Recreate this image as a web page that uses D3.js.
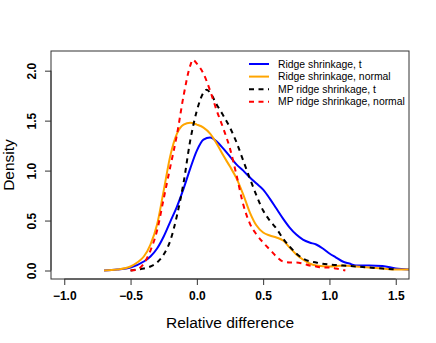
<!DOCTYPE html>
<html>
<head>
<meta charset="utf-8">
<script src="https://cdn.jsdelivr.net/npm/d3@7"></script>
<style>
  body { margin: 0; background: #fff; }
  text { font-family: "Liberation Sans", Arial, sans-serif; }
</style>
</head>
<body>
<div id="chart"></div>
<script>
var seriesNames = ["Ridge shrinkage, t", "Ridge shrinkage, normal", "MP ridge shrinkage, t", "MP ridge shrinkage, normal"];
var seriesColors = ["#0000ff", "#ffa500", "#000000", "#ff0000"];
var seriesDashed = [false, false, true, true];

var ridgeTX = [-0.7, -0.6, -0.5, -0.4, -0.35, -0.3, -0.25, -0.2, -0.15, -0.1, -0.05, 0, 0.05, 0.1, 0.15, 0.2, 0.25, 0.3, 0.35, 0.4, 0.45, 0.5, 0.55, 0.6, 0.65, 0.7, 0.75, 0.8, 0.85, 0.9, 0.95, 1.0, 1.05, 1.1, 1.15, 1.2, 1.3, 1.4, 1.5, 1.6];
var ridgeTY = [0, 0.01, 0.03, 0.09, 0.14, 0.22, 0.34, 0.49, 0.64, 0.82, 1.02, 1.2, 1.31, 1.33, 1.29, 1.22, 1.14, 1.06, 1.0, 0.93, 0.87, 0.81, 0.72, 0.62, 0.52, 0.43, 0.36, 0.31, 0.28, 0.26, 0.22, 0.17, 0.13, 0.09, 0.07, 0.05, 0.05, 0.045, 0.02, 0.01];

var ridgeNX = [-0.7, -0.6, -0.5, -0.45, -0.4, -0.35, -0.3, -0.25, -0.2, -0.15, -0.1, -0.05, 0, 0.05, 0.1, 0.15, 0.2, 0.25, 0.3, 0.35, 0.4, 0.45, 0.5, 0.55, 0.6, 0.65, 0.7, 0.75, 0.8, 0.85, 0.9, 1.0, 1.1, 1.2, 1.3, 1.4, 1.5, 1.6];
var ridgeNY = [0, 0.01, 0.04, 0.08, 0.14, 0.26, 0.46, 0.8, 1.15, 1.37, 1.46, 1.48, 1.46, 1.43, 1.37, 1.27, 1.15, 1.04, 0.92, 0.76, 0.58, 0.45, 0.38, 0.35, 0.33, 0.3, 0.23, 0.16, 0.11, 0.07, 0.05, 0.04, 0.05, 0.04, 0.03, 0.02, 0.01, 0.01];

var mpTX = [-0.5, -0.45, -0.4, -0.35, -0.3, -0.25, -0.2, -0.15, -0.1, -0.05, 0, 0.05, 0.075, 0.1, 0.15, 0.2, 0.25, 0.3, 0.35, 0.4, 0.45, 0.5, 0.55, 0.6, 0.65, 0.7, 0.75, 0.8, 0.9, 1.0, 1.1, 1.2, 1.3, 1.4, 1.5];
var mpTY = [0, 0.01, 0.02, 0.04, 0.08, 0.16, 0.3, 0.55, 0.88, 1.3, 1.6, 1.78, 1.81, 1.78, 1.66, 1.55, 1.43, 1.28, 1.1, 0.92, 0.75, 0.6, 0.5, 0.42, 0.32, 0.24, 0.17, 0.12, 0.08, 0.06, 0.05, 0.04, 0.03, 0.02, 0.01];

var mpNX = [-0.5, -0.45, -0.4, -0.35, -0.3, -0.25, -0.2, -0.15, -0.1, -0.05, -0.03, 0, 0.05, 0.1, 0.15, 0.2, 0.25, 0.3, 0.35, 0.4, 0.45, 0.5, 0.55, 0.6, 0.65, 0.7, 0.75, 0.8, 0.85, 0.9, 0.95, 1.0, 1.05, 1.12];
var mpNY = [0, 0.01, 0.07, 0.2, 0.4, 0.72, 1.04, 1.36, 1.75, 2.05, 2.11, 2.07, 1.97, 1.8, 1.6, 1.42, 1.22, 0.95, 0.66, 0.47, 0.36, 0.28, 0.21, 0.14, 0.09, 0.08, 0.08, 0.07, 0.05, 0.04, 0.03, 0.03, 0.02, 0];

var xTicks = [-1.0, -0.5, 0.0, 0.5, 1.0, 1.5];
var yTicks = [0.0, 0.5, 1.0, 1.5, 2.0];

var seriesX = [ridgeTX, ridgeNX, mpTX, mpNX];
var seriesY = [ridgeTY, ridgeNY, mpTY, mpNY];

(function() {
    var width = 436, height = 343;
    var mLeft = 51, mRight = 409, mTop = 51, mBottom = 279;

    var x = d3.scaleLinear().domain([-1.1, 1.6]).range([mLeft, mRight]);
    var y = d3.scaleLinear().domain([-0.085, 2.197]).range([mBottom, mTop]);

    var svg = d3.select("#chart").append("svg")
        .attr("width", width)
        .attr("height", height);

    svg.append("defs").append("clipPath").attr("id", "clip")
        .append("rect")
        .attr("x", mLeft).attr("y", mTop)
        .attr("width", mRight - mLeft).attr("height", mBottom - mTop);

    var line = d3.line()
        .x(function(d) { return x(d[0]); })
        .y(function(d) { return y(d[1]); })
        .curve(d3.curveMonotoneX);

    var plot = svg.append("g").attr("clip-path", "url(#clip)");

    // blue, orange, black, red
    seriesX.forEach(function(xs, i) {
        var pts = xs.map(function(v, j) { return [v, seriesY[i][j]]; });
        plot.append("path")
            .attr("d", line(pts))
            .attr("fill", "none")
            .attr("stroke", seriesColors[i])
            .attr("stroke-width", 2)
            .attr("stroke-dasharray", seriesDashed[i] ? "5,4.5" : null);
    });

    // box
    svg.append("rect")
        .attr("x", mLeft).attr("y", mTop)
        .attr("width", mRight - mLeft).attr("height", mBottom - mTop)
        .attr("fill", "none")
        .attr("stroke", "#333")
        .attr("stroke-width", 1);

    // x axis
    var xAxis = d3.axisBottom(x).tickValues(xTicks).tickSize(6).tickPadding(6)
        .tickFormat(function(d) { return d3.format(".1f")(d).replace("-", "\u2212"); });
    var gx = svg.append("g").attr("transform", "translate(0," + mBottom + ")").call(xAxis);
    gx.select(".domain").attr("d", "M" + x(-1) + ",0H" + x(1.5)).attr("stroke", "#333");
    gx.selectAll(".tick line").attr("stroke", "#333");
    gx.selectAll("text").attr("font-size", 12).attr("font-weight", "bold")
        .attr("font-family", "Liberation Sans, Arial, sans-serif").attr("fill", "#000");

    // y axis
    var yAxis = d3.axisLeft(y).tickValues(yTicks).tickSize(6)
        .tickFormat(d3.format(".1f"));
    var gy = svg.append("g").attr("transform", "translate(" + mLeft + ",0)").call(yAxis);
    gy.select(".domain").attr("d", "M0," + y(0) + "V" + y(2)).attr("stroke", "#333");
    gy.selectAll(".tick line").attr("stroke", "#333");
    gy.selectAll("text")
        .attr("font-size", 12).attr("font-weight", "bold")
        .attr("font-family", "Liberation Sans, Arial, sans-serif").attr("fill", "#000")
        .attr("text-anchor", "middle")
        .attr("x", 0).attr("y", 0).attr("dy", "0.35em")
        .attr("transform", "translate(-19,0) rotate(-90)");

    // axis titles
    svg.append("text")
        .attr("x", 230).attr("y", 328)
        .attr("text-anchor", "middle")
        .attr("font-size", 15.5)
        .text("Relative difference");

    svg.append("text")
        .attr("transform", "translate(13.5," + 165 + ") rotate(-90)")
        .attr("text-anchor", "middle")
        .attr("font-size", 15.5)
        .text("Density");

    // legend
    var legend = svg.append("g");
    seriesNames.forEach(function(name, i) {
        var ly = 64 + i * 12.6;
        legend.append("line")
            .attr("x1", 249).attr("x2", 269)
            .attr("y1", ly).attr("y2", ly)
            .attr("stroke", seriesColors[i])
            .attr("stroke-width", 2)
            .attr("stroke-dasharray", seriesDashed[i] ? "5,4.5" : null);
        legend.append("text")
            .attr("x", 278).attr("y", ly).attr("dy", "0.35em")
            .attr("font-size", 10.4)
            .text(name);
    });
})();
</script>
</body>
</html>
